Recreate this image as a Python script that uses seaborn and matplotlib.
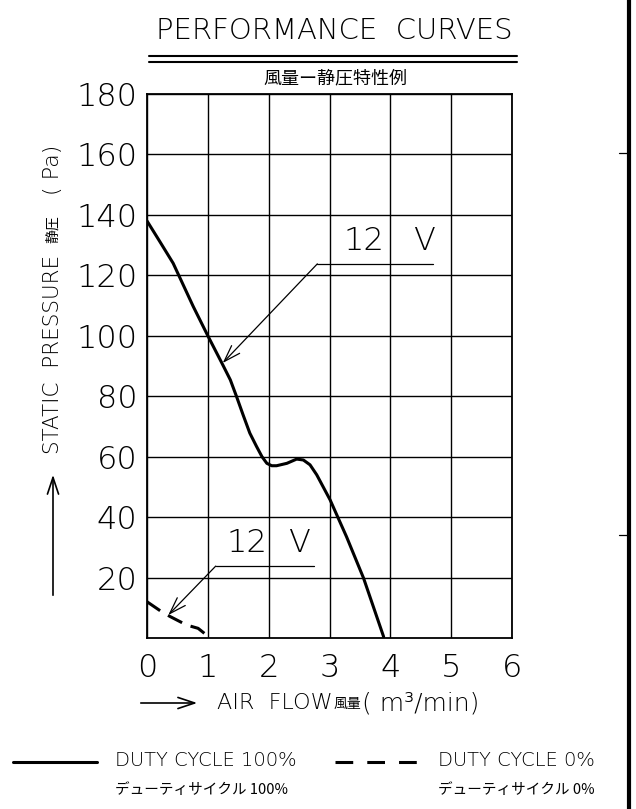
import matplotlib
matplotlib.use("Agg")
import matplotlib.pyplot as plt
from matplotlib.lines import Line2D
from matplotlib.patches import FancyArrowPatch
import seaborn as sns

# --- chart values ---
flow_100 = [0.0, 0.21, 0.43, 0.76, 1.0, 1.23, 1.37, 1.47, 1.58, 1.69, 1.80, 1.89,
            1.97, 2.05, 2.13, 2.30, 2.46, 2.57, 2.68, 2.79, 3.01, 3.28, 3.56, 3.72, 3.89]
pres_100 = [138, 131.2, 124, 109.7, 100, 91, 85.4, 80, 73.8, 67.8, 63.4, 60.0,
            57.8, 57.0, 57.0, 57.8, 59.2, 58.9, 57.3, 54.0, 45.7, 33.5, 19.8, 10.4, 0.4]

flow_0 = [0.0, 0.24, 0.38, 0.65, 0.84, 1.04]
pres_0 = [12.0, 8.7, 7.1, 4.3, 3.2, 0.0]

x_ticks = [0, 1, 2, 3, 4, 5, 6]
y_ticks = [20, 40, 60, 80, 100, 120, 140, 160, 180]

W, H = 636, 809

sns.set_theme(style="white")
plt.rcParams["font.family"] = ["DejaVu Sans", "Noto Sans CJK JP"]
plt.rcParams["text.color"] = "black"

LAT = dict(family=["DejaVu Sans", "Noto Sans CJK JP"], fontweight="light")
CJK = dict(family=["Noto Sans CJK JP", "DejaVu Sans"])

fig = plt.figure(figsize=(W / 100, H / 100), dpi=100)
ax = fig.add_axes([147 / W, 1 - 638 / H, 365 / W, 544 / H])


def fx(x):
    return x / W


def fy(y):
    return 1 - y / H


# curves
sns.lineplot(x=flow_100, y=pres_100, ax=ax, color="black", lw=2.2,
             sort=False, estimator=None)
sns.lineplot(x=flow_0, y=pres_0, ax=ax, color="black", lw=2.2,
             sort=False, estimator=None)
ax.lines[-1].set_dashes((5.2, 3.0))

ax.set_xlim(0, 6)
ax.set_ylim(0, 180)
ax.set_xticks(x_ticks)
ax.set_xticklabels([str(v) for v in x_ticks])
ax.set_yticks(y_ticks)
ax.set_yticklabels([str(v) for v in y_ticks])
ax.grid(True, color="black", lw=1.0)
ax.tick_params(length=0, labelsize=23, colors="black")
ax.tick_params(axis="x", pad=11)
ax.tick_params(axis="y", pad=7)
for lab in ax.get_xticklabels() + ax.get_yticklabels():
    lab.set_fontweight("light")
for sp in ax.spines.values():
    sp.set_color("black")
    sp.set_linewidth(1.3)
ax.set_xlabel("")
ax.set_ylabel("")

# 12 V call-outs
arrow = dict(arrowstyle="->,head_length=0.6,head_width=0.2", lw=0.9,
             color="black", shrinkA=0, shrinkB=0, mutation_scale=20)
ax.plot([2.80, 4.70], [123.8, 123.8], color="black", lw=0.9)
ax.annotate("", xy=(1.245, 91), xytext=(2.80, 123.8), arrowprops=arrow)
ax.text(3.57, 126.3, "12", ha="center", va="bottom", fontsize=23, fontweight="light")
ax.text(4.56, 126.3, "V", ha="center", va="bottom", fontsize=23, fontweight="light")

ax.plot([1.13, 2.75], [23.8, 23.8], color="black", lw=0.9)
ax.annotate("", xy=(0.35, 7.6), xytext=(1.13, 23.8), arrowprops=arrow)
ax.text(1.64, 26.5, "12", ha="center", va="bottom", fontsize=23, fontweight="light")
ax.text(2.50, 26.5, "V", ha="center", va="bottom", fontsize=23, fontweight="light")

# title block
fig.text(fx(334), fy(31), "PERFORMANCE  CURVES", ha="center", va="center",
         fontsize=21, **LAT)
for yy in (56, 62):
    fig.add_artist(Line2D([fx(149), fx(517)], [fy(yy), fy(yy)], color="black", lw=1.5))
fig.text(fx(335), fy(78), "風量ー静圧特性例", ha="center", va="center",
         fontsize=13, **CJK)

# y axis label
fig.text(fx(53), fy(354), "STATIC  PRESSURE", rotation=90, ha="center",
         va="center", fontsize=15.5, **LAT)
fig.text(fx(53), fy(229), "静圧", rotation=90, ha="center", va="center",
         fontsize=10, **CJK)
fig.text(fx(53), fy(170), "( Pa)", rotation=90, ha="center", va="center",
         fontsize=16, **LAT)
fig.add_artist(FancyArrowPatch(
    (fx(53), fy(598)), (fx(53), fy(472)), transform=fig.transFigure,
    arrowstyle="->,head_length=0.6,head_width=0.2", mutation_scale=20,
    lw=1.2, color="black"))

# x axis label
fig.add_artist(FancyArrowPatch(
    (fx(138), fy(703)), (fx(200), fy(703)), transform=fig.transFigure,
    arrowstyle="->,head_length=0.6,head_width=0.2", mutation_scale=20,
    lw=1.2, color="black"))
fig.text(fx(217), fy(703), "AIR  FLOW", ha="left", va="center", fontsize=16, **LAT)
fig.text(fx(334), fy(704), "風量", ha="left", va="center", fontsize=10, **CJK)
fig.text(fx(362), fy(703), "( m³/min)", ha="left", va="center", fontsize=18, **LAT)

# legend
fig.add_artist(Line2D([fx(13), fx(97)], [fy(762), fy(762)], color="black", lw=2.2))
fig.text(fx(115), fy(761), "DUTY CYCLE 100%", ha="left", va="center",
         fontsize=14, **LAT)
fig.text(fx(115), fy(790), "デューティサイクル 100%", ha="left", va="center",
         fontsize=10.5, **CJK)
fig.add_artist(Line2D([fx(335), fx(420)], [fy(762), fy(762)], color="black",
                      lw=2.2, dashes=(5.8, 4.6)))
fig.text(fx(438), fy(761), "DUTY CYCLE 0%", ha="left", va="center",
         fontsize=14, **LAT)
fig.text(fx(438), fy(790), "デューティサイクル 0%", ha="left", va="center",
         fontsize=10.5, **CJK)

# frame edge on the right
fig.add_artist(Line2D([fx(629), fx(629)], [0, 1], color="black", lw=3))
for yy in (153, 535):
    fig.add_artist(Line2D([fx(619), fx(629)], [fy(yy), fy(yy)], color="black", lw=0.9))

fig.savefig("out.png", dpi=100, facecolor="white")
